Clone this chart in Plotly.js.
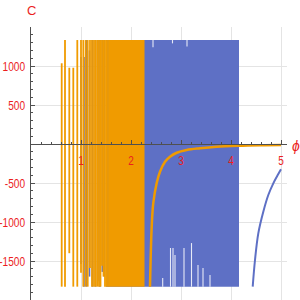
<!DOCTYPE html>
<html>
<head>
<meta charset="utf-8">
<script src="https://cdn.plot.ly/plotly-3.0.1.min.js"></script>
<style>html,body{margin:0;padding:0;background:#fff;}#plot{width:300px;height:300px;}</style>
</head>
<body>
<div id="plot"></div>
<script>
// ---- data ----
const clipTop = 1333;
const clipBottom = -1829;

// orange (second function): isolated spikes near poles
const orangeSpikeX   = [0.614, 0.68, 0.766, 0.846, 0.926, 1.0, 1.046, 1.094, 1.134, 1.18, 1.22, 1.26, 1.294, 1.326, 1.36, 1.39, 1.42, 1.45, 1.48, 1.51, 1.54];
const orangeSpikeTop = [1035, 1333, 978, 978, 1333, 1333, 1333, 1333, 1333, 1333, 1333, 1333, 1333, 1333, 1333, 1333, 1333, 1333, 1333, 1333, 1333];
const orangeSpikeBot = [-1829, -1829, -1400, -1829, -1829, -1650, -1829, -1829, -1829, -1590, -1829, -1829, -1829, -1829, -1829, -1829, -1560, -1700, -1829, -1829, -1829];
// orange dense region [start, end]
const orangeBlock = [1.55, 2.27];
// orange smooth branch after last pole
const orangeCurveX = [2.38, 2.414, 2.446, 2.514, 2.58, 2.68, 2.78, 2.914, 3.114, 3.38, 3.71, 4.14, 4.58, 5.0];
const orangeCurveY = [-1829, -1060, -756, -500, -355, -227, -163, -112, -77, -55, -35, -22, -15, -12];

// blue (first function)
const blueSpikeX   = [1.0, 1.06, 1.11, 1.17, 1.23, 1.29, 1.34, 1.38, 1.426, 1.466];
const blueSpikeTop = [1115, 1115, 1333, 1200, 1333, 1333, 1333, 1333, 1333, 1333];
const blueSpikeBot = [-1540, -1829, -1829, -1700, -1829, -1829, -1760, -1829, -1640, -1700];
const blueBlock = [1.5, 4.16];
// places inside the dense blue region where the curve does not reach the clip
const blueGapX    = [2.634, 2.79, 2.84, 2.88, 3.06, 3.21, 3.34, 3.44, 3.58, 2.44, 2.83, 3.12];
const blueGapFrom = [-1829, -1829, -1829, -1829, -1829, -1829, -1829, -1829, -1829, 1333, 1333, 1333];
const blueGapTo   = [-1718, -1333, -1333, -1423, -1333, -1270, -1550, -1590, -1680, 1240, 1290, 1250];
const blueCurveX = [4.434, 4.48, 4.546, 4.646, 4.746, 4.846, 4.946, 5.0];
const blueCurveY = [-1829, -1487, -1145, -868, -654, -504, -385, -324];

// axis ticks
const xTickVals = [1, 2, 3, 4, 5];
const xTickText = ['1', '2', '3', '4', '5'];
const yTickVals = [-1500, -1000, -500, 500, 1000];
const yTickText = ['-1500', '-1000', '-500', '500', '1000'];

// ---- build traces ----
const ORANGE = 'rgb(240,155,0)';
const BLUE = 'rgb(94,112,197)';

function segments(xs, a, b) {
  const x = [], y = [];
  for (let i = 0; i < xs.length; i++) {
    x.push(xs[i], xs[i], null);
    y.push(a[i], b[i], null);
  }
  return {x, y};
}
function block(r) {
  return {x: [r[0], r[1], r[1], r[0], r[0]], y: [clipBottom, clipBottom, clipTop, clipTop, clipBottom]};
}

const bs = segments(blueSpikeX, blueSpikeBot, blueSpikeTop);
const bb = block(blueBlock);
const bg = segments(blueGapX, blueGapFrom, blueGapTo);
const os = segments(orangeSpikeX, orangeSpikeBot, orangeSpikeTop);
const ob = block(orangeBlock);

const traces = [
  {x: bb.x, y: bb.y, mode: 'lines', fill: 'toself', fillcolor: BLUE, line: {color: BLUE, width: 0}, hoverinfo: 'skip'},
  {x: bs.x, y: bs.y, mode: 'lines', line: {color: BLUE, width: 1.6}, hoverinfo: 'skip'},
  {x: bg.x, y: bg.y, mode: 'lines', line: {color: 'rgba(255,255,255,0.85)', width: 1.1}, hoverinfo: 'skip'},
  {x: blueCurveX, y: blueCurveY, mode: 'lines', line: {color: BLUE, width: 2, shape: 'spline'}, hoverinfo: 'skip'},
  {x: ob.x, y: ob.y, mode: 'lines', fill: 'toself', fillcolor: ORANGE, line: {color: ORANGE, width: 0}, hoverinfo: 'skip'},
  {x: os.x, y: os.y, mode: 'lines', line: {color: ORANGE, width: 1.8}, hoverinfo: 'skip'},
  {x: orangeCurveX, y: orangeCurveY, mode: 'lines', line: {color: ORANGE, width: 2.5, shape: 'spline'}, hoverinfo: 'skip'}
];

const yMinor = [];
for (let v = -2000; v <= 1500; v += 100) yMinor.push(v);
const xMinor = [];
for (let k = 0; k <= 25; k++) xMinor.push(k * 0.2);

const RED = 'rgb(235,30,30)';
const FONT = 'Liberation Sans, Arial, sans-serif';
const AXC = 'rgb(80,80,80)';

const layout = {
  width: 300, height: 300,
  margin: {l: 31, r: 13, t: 27, b: 0, pad: 0},
  paper_bgcolor: '#fff', plot_bgcolor: '#fff',
  showlegend: false,
  xaxis: {
    range: [0, 5.12], anchor: 'free', position: 2000 / 3500,
    showline: true, linecolor: AXC, linewidth: 1.3,
    tickmode: 'array', tickvals: xTickVals, ticktext: xTickText,
    ticks: 'inside', ticklen: 4, tickcolor: AXC, tickwidth: 1,
    tickfont: {family: FONT, size: 13, color: RED}, ticklabelstandoff: 4,
    minor: {tickmode: 'array', tickvals: xMinor, ticks: 'inside', ticklen: 2, tickcolor: AXC, showgrid: false},
    showgrid: true, gridcolor: 'rgb(228,228,228)', gridwidth: 1,
    zeroline: false, fixedrange: true
  },
  yaxis: {
    range: [-2000, 1500],
    showline: true, linecolor: AXC, linewidth: 1.3,
    tickmode: 'array', tickvals: yTickVals, ticktext: yTickText,
    ticks: 'inside', ticklen: 4, tickcolor: AXC, tickwidth: 1,
    tickfont: {family: FONT, size: 13, color: RED}, ticklabelstandoff: 2,
    minor: {tickmode: 'array', tickvals: yMinor, ticks: 'inside', ticklen: 2, tickcolor: AXC, showgrid: false},
    showgrid: true, gridcolor: 'rgb(228,228,228)', gridwidth: 1,
    zeroline: false, fixedrange: true
  },
  annotations: [
    {text: 'C', xref: 'paper', yref: 'paper', x: 0, y: 1, yshift: 17, xanchor: 'center', yanchor: 'middle', showarrow: false, font: {family: FONT, size: 13, color: RED}},
    {text: '<i>ϕ</i>', xref: 'paper', yref: 'y', x: 1.035, y: 0, yshift: -2, xanchor: 'center', yanchor: 'middle', showarrow: false, font: {family: FONT, size: 14, color: RED}}
  ]
};

Plotly.newPlot('plot', traces, layout, {staticPlot: true, displayModeBar: false}).then(function (gd) {
  // the reference uses a condensed face: narrow the tick labels horizontally
  gd.querySelectorAll('.ytick text, .xtick text').forEach(function (t) {
    const w = t.getComputedTextLength();
    t.setAttribute('textLength', (w * 0.78).toFixed(1));
    t.setAttribute('lengthAdjust', 'spacingAndGlyphs');
  });
});
</script>
</body>
</html>
